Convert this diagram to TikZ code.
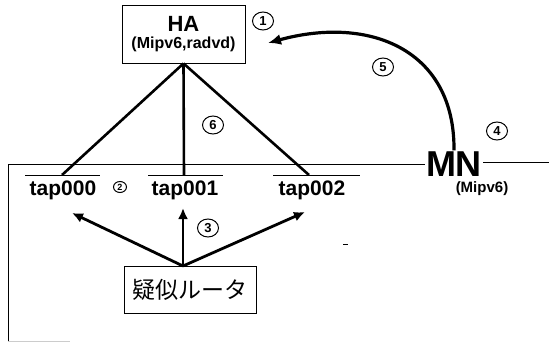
\documentclass[tikz,border=0pt]{standalone}
\usepackage{fontspec}
\setmainfont{Liberation Sans}
\newfontfamily\jpfont{Noto Sans CJK JP}
\usetikzlibrary{arrows.meta,shapes.geometric}

\tikzset{
  num/.style={ellipse,draw,line width=1pt,inner sep=0pt,minimum width=21pt,minimum height=18pt,font=\bfseries\fontsize{13}{13}\selectfont},
  taplabel/.style={font=\bfseries\fontsize{21}{21}\selectfont,inner sep=0pt},
  tapline/.style={line width=0.9pt},
  link/.style={line width=2.6pt},
  push/.style={line width=2.8pt,-{Latex[length=11pt,width=10pt]}}
}

\begin{document}
\begin{tikzpicture}[x=1pt,y=-1pt]
    \useasboundingbox (0,0) rectangle (549,345);

    % home agent
    \node[draw,line width=0.9pt,minimum width=123pt,minimum height=58pt,align=center,inner sep=1pt] (ha) at (183.5,34)
        {{\bfseries\fontsize{22}{24}\selectfont HA}\\[5pt]{\bfseries\fontsize{16}{17}\selectfont (Mipv6,radvd)}};
    \node[num] (n1) at (263,21) {1};

    % mobile node
    \node[font=\bfseries\fontsize{36}{36}\selectfont,inner sep=1pt] (mn) at (454,164) {MN};
    \node[font=\bfseries\fontsize{15}{15}\selectfont] (mnsub) at (482,189) {(Mipv6)};
    \node[num] (n4) at (497,131) {4};
    \node[num] (n5) at (383,67) {5};
    \draw[line width=3.2pt,-{Latex[length=13pt,width=11pt]}] (mn.north) .. controls (455,50) and (370,15) .. (268,43); %,move

    %%%%%%%%%%%%%%%%%%%%%%%%%%%%%%%%%%%%%%%%%%%%%%%%%%%%%%%%%

    % outer segment
    \coordinate (segl) at (8,164);
    \coordinate (segr) at (549,162);
    \coordinate (segb) at (8,341);
    \draw[line width=0.9pt] (segb) -- (segl) -- (mn.west |- segl);
    \draw[line width=0.9pt] (mn.east |- segr) -- (segr);
    \draw[gray!40,line width=1pt] (segb) -- (70,341);

    % taps
    \node[taplabel] (tap0) at (63,190) {tap000};
    \node[taplabel] (tap1) at (185,190) {tap001};
    \node[taplabel] (tap2) at (312,190) {tap002};
    \coordinate (t0) at (62,175);
    \coordinate (t1) at (184,175);
    \coordinate (t2) at (309,175);
    \draw[tapline] (25,175) -- (100,175);
    \draw[tapline] (148,175) -- (223,175);
    \draw[tapline] (273,175) -- (360,175);
    \node[num,minimum width=13pt,minimum height=11pt,font=\bfseries\fontsize{9}{9}\selectfont] (n2) at (120,187) {2};

    % HA to taps
    \draw[link] (ha.south) -- (t0);
    \draw[link] (ha.south) -- (t1);
    \draw[link] (ha.south) -- (t2);
    \node[num] (n6) at (213,125) {6};

    %%%%%%%%%%%%%%%%%%%%%%%%%%%%%%%%%%%%%%%%%%%%%%%%%%%%%%%%%

    % pseudo router
    \node[draw,line width=0.9pt,minimum width=132pt,minimum height=47pt,font=\jpfont\fontsize{23}{23}\selectfont] (rt) at (190,290) {疑似ルータ};
    \coordinate (r0) at (183,266);
    \coordinate (a0) at (72,213);
    \coordinate (a1) at (183,208);
    \coordinate (a2) at (305,212);
    \draw[push] (r0) -- (a0);
    \draw[push] (r0) -- (a1);
    \draw[push] (r0) -- (a2);
    \node[num] (n3) at (208,228) {3};
    \draw[line width=0.8pt] (343,244) -- (348,244); %,stray

\end{tikzpicture}
\end{document}
